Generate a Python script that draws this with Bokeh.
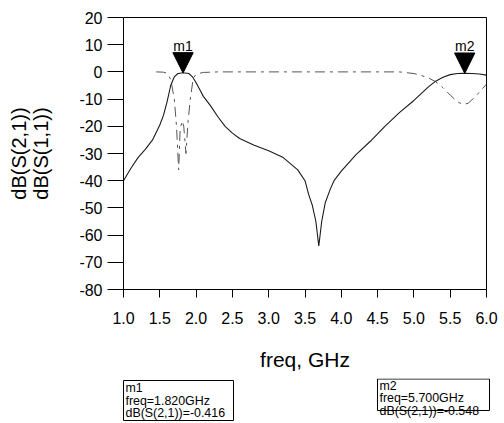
from bokeh.plotting import figure
from bokeh.models import Range1d, FixedTicker, NumeralTickFormatter
from bokeh.core.properties import value
from bokeh.embed import file_html
from bokeh.resources import INLINE

# S21 (solid) trace
s21_freq = [1.0, 1.1, 1.2, 1.3, 1.4, 1.5, 1.55, 1.6, 1.65, 1.7, 1.75, 1.8, 1.85, 1.9,
            1.95, 2.0, 2.05, 2.1, 2.2, 2.3, 2.4, 2.5, 2.6, 2.8, 3.0, 3.2, 3.4, 3.5,
            3.55, 3.6, 3.65, 3.69, 3.73, 3.78, 3.85, 3.9, 4.0, 4.2, 4.4, 4.6, 4.8,
            5.0, 5.2, 5.3, 5.4, 5.5, 5.6, 5.7, 5.8, 5.9, 6.0]
s21_db = [-40, -35.5, -31.5, -28.5, -25, -19.5, -16, -11, -5, -1.8, -0.6, -0.4, -0.4, -0.6,
          -1.8, -4, -6.5, -9, -12.5, -16.5, -20, -22.5, -24.5, -27, -29, -31.5, -36, -40,
          -45, -49, -55, -64, -55, -48, -43, -40, -36.5, -30.5, -25.5, -20, -15,
          -10.5, -5.5, -3.4, -2, -1, -0.6, -0.55, -0.6, -0.8, -1.2]

# S11 (dash-dot) trace
s11_freq = [1.45, 1.55, 1.6, 1.65, 1.7, 1.73, 1.76, 1.78, 1.81, 1.83, 1.86, 1.89, 1.92,
            1.96, 2.0, 2.1, 2.3, 3.0, 4.0, 4.8, 5.0, 5.1, 5.2, 5.3, 5.4, 5.5, 5.6,
            5.68, 5.75, 5.85, 5.95, 6.0]
s11_db = [0, -0.1, -0.5, -2.7, -10, -20, -36, -21, -18, -20, -30, -18, -10,
          -2.4, -0.8, -0.2, 0, 0, 0, 0, -0.6, -1.3, -2.2, -3.6, -5.8, -8.5, -11,
          -12, -11.5, -9, -6, -4.5]

# markers
marker_names = ["m1", "m2"]
marker_freq = [1.82, 5.70]
marker_db = [-0.416, -0.548]

x_ticks = [1.0, 1.5, 2.0, 2.5, 3.0, 3.5, 4.0, 4.5, 5.0, 5.5, 6.0]
y_ticks = [-80, -70, -60, -50, -40, -30, -20, -10, 0, 10, 20]

FONT = "Liberation Sans"
MAIN_H = 378
BOX_H = 423 - MAIN_H

p = figure(width=504, height=MAIN_H, output_backend="svg", toolbar_location=None,
           x_range=Range1d(1.0, 6.0), y_range=Range1d(-80, 20),
           min_border_left=123, min_border_right=18, min_border_top=17,
           min_border_bottom=MAIN_H - 289,
           x_axis_label="freq, GHz", y_axis_label="dB(S(2,1))\ndB(S(1,1))")
p.grid.visible = False
p.outline_line_color = "black"
p.outline_line_width = 1
p.background_fill_color = "white"
p.border_fill_color = "white"

for ax in (p.xaxis[0], p.yaxis[0]):
    ax.axis_line_color = "black"
    ax.major_tick_line_color = "black"
    ax.minor_tick_line_color = None
    ax.major_tick_in = 0
    ax.major_label_text_font = FONT
    ax.major_label_text_font_size = "16px"
    ax.major_label_text_color = "black"
    ax.axis_label_text_font = FONT
    ax.axis_label_text_font_style = "normal"
    ax.axis_label_text_color = "black"

p.xaxis[0].ticker = FixedTicker(ticks=x_ticks)
p.xaxis[0].formatter = NumeralTickFormatter(format="0.0")
p.xaxis[0].major_tick_out = 8
p.xaxis[0].major_label_standoff = 14
p.xaxis[0].axis_label_text_font_size = "21px"
p.xaxis[0].axis_label_standoff = 21

p.yaxis[0].ticker = FixedTicker(ticks=y_ticks)
p.yaxis[0].formatter = NumeralTickFormatter(format="0")
p.yaxis[0].major_tick_out = 16
p.yaxis[0].major_label_standoff = 5
p.yaxis[0].axis_label_text_font_size = "20px"
p.yaxis[0].axis_label_text_line_height = 1.0
p.yaxis[0].axis_label_standoff = 24

p.line(s11_freq, s11_db, line_color="#555555", line_width=1, line_dash="10 5 3 5")
p.line(s21_freq, s21_db, line_color="#1a1a1a", line_width=1.1)

# marker triangles
tri_w = 0.14
tri_h = 7.5
xs = [[f - tri_w, f + tri_w, f] for f in marker_freq]
ys = [[v + tri_h, v + tri_h, v] for v in marker_db]
p.patches(xs, ys, fill_color="black", line_color="black")
p.text(x=marker_freq, y=[v + tri_h for v in marker_db], text=marker_names,
       text_align="center", text_baseline="bottom", y_offset=1,
       text_font=value(FONT), text_font_size="14px", text_color="black")

# marker readout boxes, in a strip below the chart (pixel coordinates of the page)
q = figure(width=504, height=BOX_H, output_backend="svg", toolbar_location=None,
           x_range=Range1d(0, 504), y_range=Range1d(0, BOX_H),
           x_axis_type=None, y_axis_type=None, min_border=0)
q.grid.visible = False
q.outline_line_color = None
q.background_fill_color = "white"
q.border_fill_color = "white"


def qy(y_img):
    return BOX_H - (y_img - MAIN_H)


box_left = [123, 377]
box_right = [233, 489]
box_top = [380, 378.5]
box_bottom = [420, 410]
first_line = [7.5, 6.5]
line_step = 12.5

q.quad(left=box_left, right=box_right,
       top=[qy(t) for t in box_top], bottom=[qy(b) for b in box_bottom],
       fill_color="white", line_color="black", line_width=1)

tx, ty, tt = [], [], []
for name, f, v, bl, bt, fl in zip(marker_names, marker_freq, marker_db,
                                  box_left, box_top, first_line):
    lines = [name, f"freq={f:.3f}GHz", f"dB(S(2,1))={v:.3f}"]
    for i, s in enumerate(lines):
        tx.append(bl + 2)
        ty.append(qy(bt + fl + i * line_step))
        tt.append(s)
q.text(x=tx, y=ty, text=tt, text_align="left", text_baseline="middle",
       text_font=value(FONT), text_font_size="12.4px", text_font_style="normal",
       text_color="black")

open("out.html", "w").write(file_html([p, q], INLINE))
